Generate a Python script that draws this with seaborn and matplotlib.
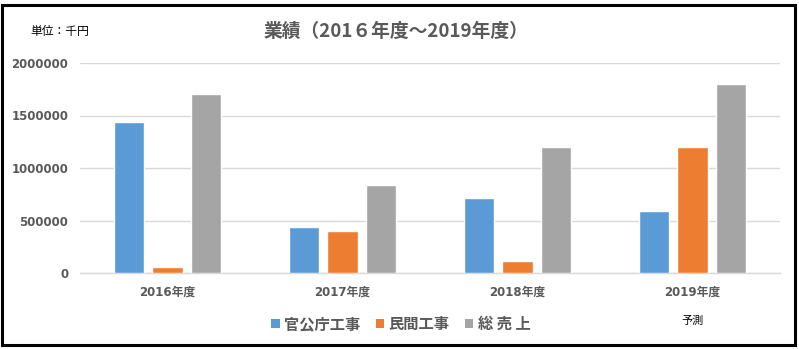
import matplotlib
matplotlib.use("Agg")
import matplotlib.pyplot as plt
from matplotlib.patches import Patch, Rectangle
import seaborn as sns
import pandas as pd

# ---- data ----
years = ["2016年度", "2017年度", "2018年度", "2019年度"]
series_names = ["官公庁工事", "民間工事", "総 売 上"]
kankocho = [1435000, 435000, 712000, 588000]
minkan = [57000, 400000, 114000, 1200000]
total = [1705000, 838000, 1200000, 1800000]
yticks = [0, 500000, 1000000, 1500000, 2000000]
colors = ["#5B9BD5", "#ED7D31", "#A5A5A5"]

rows = []
for name, vals in zip(series_names, [kankocho, minkan, total]):
    for y, v in zip(years, vals):
        rows.append({"year": y, "series": name, "value": v})
df = pd.DataFrame(rows)

sns.set_style("white")
plt.rcParams["font.family"] = ["DejaVu Sans", "Noto Sans CJK JP"]

W, H = 799, 349
fig = plt.figure(figsize=(W / 100, H / 100), dpi=100)
ax = fig.add_axes([80 / W, 1 - 273 / H, 700 / W, 210 / H])

sns.barplot(data=df, x="year", y="value", hue="series", hue_order=series_names,
            order=years, palette=colors, width=0.66, gap=0.22, errorbar=None,
            saturation=1, ax=ax, legend=False, zorder=3)

ax.set_ylim(0, 2000000)
ax.set_xlim(-0.5, 3.5)
ax.set_yticks(yticks)
ax.set_yticklabels([str(v) for v in yticks])
ax.set_xlabel("")
ax.set_ylabel("")
ax.yaxis.grid(True, color="#D9D9D9", linewidth=1.0, zorder=0)
ax.xaxis.grid(False)
for s in ["top", "right", "left"]:
    ax.spines[s].set_visible(False)
ax.spines["bottom"].set_color("#D9D9D9")
ax.spines["bottom"].set_linewidth(1.0)
ax.tick_params(axis="y", length=0, pad=8.5, labelsize=8.5, labelcolor="#595959")
ax.tick_params(axis="x", length=0, pad=9, labelsize=8.5, labelcolor="#595959")
for lab in ax.get_yticklabels() + ax.get_xticklabels():
    lab.set_fontweight("bold")

# title and notes
fig.text(396 / W, 1 - 31 / H, "業績（201６年度～2019年度）", ha="center", va="center",
         fontsize=13.5, fontweight="bold", color="#595959", family=["Noto Sans CJK JP"])
fig.text(30 / W, 1 - 31 / H, "単位：千円", ha="left", va="center",
         fontsize=8.5, color="#000000", family=["Noto Sans CJK JP"])
fig.text(692 / W, 1 - 321 / H, "予測", ha="center", va="center",
         fontsize=8, color="#000000", family=["Noto Sans CJK JP"])

# legend
handles = [Patch(facecolor=c, edgecolor="none", label=n) for c, n in zip(colors, series_names)]
leg = fig.legend(handles=handles, loc="center", bbox_to_anchor=(401 / W, 1 - 324 / H),
                 ncol=3, frameon=False, handlelength=0.55, handleheight=0.5,
                 handletextpad=0.3, columnspacing=1.0,
                 prop={"family": "Noto Sans CJK JP", "weight": "bold", "size": 11})
for t in leg.get_texts():
    t.set_color("#595959")

# outer border
fig.patches.append(Rectangle((2 / W, 1 - 345 / H), 793 / W, 340 / H, transform=fig.transFigure,
                             fill=False, edgecolor="black", linewidth=2.2))

fig.savefig("out.png", dpi=100)
